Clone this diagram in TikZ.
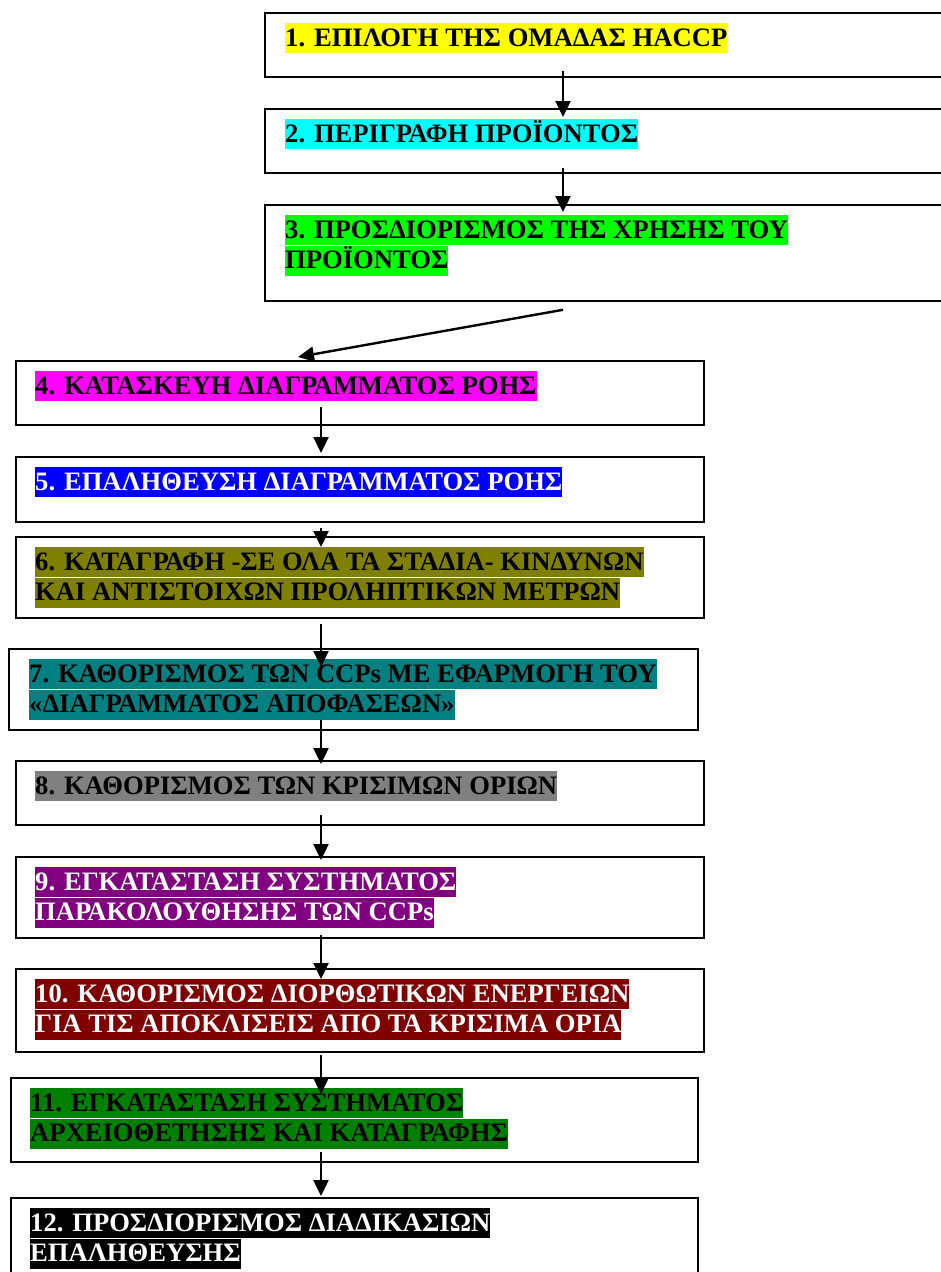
\documentclass[tikz,border=0pt]{standalone}
\usepackage{fontspec}
\setmainfont{Liberation Serif}
\usetikzlibrary{arrows.meta,calc}

\definecolor{hlyellow}{HTML}{FFFF00}
\definecolor{hlcyan}{HTML}{00FFFF}
\definecolor{hllime}{HTML}{00FF00}
\definecolor{hlmagenta}{HTML}{FF00FF}
\definecolor{hlblue}{HTML}{0000FF}
\definecolor{hlolive}{HTML}{808000}
\definecolor{hlteal}{HTML}{008080}
\definecolor{hlgray}{HTML}{808080}
\definecolor{hlpurple}{HTML}{800080}
\definecolor{hlmaroon}{HTML}{800000}
\definecolor{hlgreen}{HTML}{008000}
\definecolor{hlblack}{HTML}{000000}

\begin{document}
\begin{tikzpicture}[x=1pt,y=-1pt,
  stepbox/.style={draw=black, line width=1.8pt, fill=white, inner sep=0pt,
    anchor=north west},
  hl/.style={fill=#1, inner xsep=0pt, inner ysep=0pt, anchor=north west,
    text height=23pt, text depth=7pt,
    font=\fontsize{26.6}{30}\selectfont\bfseries},
  arr/.style={line width=2.4pt, -{Triangle[length=16pt,width=15pt]}},
]
\useasboundingbox (0,0) rectangle (940,1272);
\fill[white] (0,0) rectangle (940,1272);

% step boxes
\node[stepbox, minimum width=700pt, minimum height=64pt] (b1) at (264,12) {};
\node[stepbox, minimum width=700pt, minimum height=64pt] (b2) at (264,108) {};
\node[stepbox, minimum width=700pt, minimum height=96pt] (b3) at (264,204) {};
\node[stepbox, minimum width=688pt, minimum height=64pt] (b4) at (15,360) {};
\node[stepbox, minimum width=688pt, minimum height=65pt] (b5) at (15,456) {};
\node[stepbox, minimum width=688pt, minimum height=81pt] (b6) at (15,536) {};
\node[stepbox, minimum width=689pt, minimum height=81pt] (b7) at (8,648) {};
\node[stepbox, minimum width=688pt, minimum height=64pt] (b8) at (15,760) {};
\node[stepbox, minimum width=688pt, minimum height=81pt] (b9) at (15,856) {};
\node[stepbox, minimum width=688pt, minimum height=83pt] (b10) at (15,968) {};
\node[stepbox, minimum width=687pt, minimum height=84pt] (b11) at (10,1077) {};
\node[stepbox, minimum width=687pt, minimum height=100pt] (b12) at (10,1197) {};

% highlighted step titles
\node[hl=hlyellow] (t1) at (285,23) {1. ΕΠΙΛΟΓΗ ΤΗΣ ΟΜΑΔΑΣ HACCP};
\node[hl=hlcyan] (t2) at (285,119) {2. ΠΕΡΙΓΡΑΦΗ ΠΡΟΪΟΝΤΟΣ};
\node[hl=hllime] (t3a) at (285,215) {3. ΠΡΟΣΔΙΟΡΙΣΜΟΣ ΤΗΣ ΧΡΗΣΗΣ ΤΟΥ};
\node[hl=hllime] (t3b) at (t3a.south west) {ΠΡΟΪΟΝΤΟΣ};
\node[hl=hlmagenta] (t4) at (35,371) {4. ΚΑΤΑΣΚΕΥΗ ΔΙΑΓΡΑΜΜΑΤΟΣ ΡΟΗΣ};
\node[hl=hlblue, text=white] (t5) at (35,467) {5. ΕΠΑΛΗΘΕΥΣΗ ΔΙΑΓΡΑΜΜΑΤΟΣ ΡΟΗΣ};
\node[hl=hlolive] (t6a) at (35,547) {6. ΚΑΤΑΓΡΑΦΗ -ΣΕ ΟΛΑ ΤΑ ΣΤΑΔΙΑ- ΚΙΝΔΥΝΩΝ};
\node[hl=hlolive] (t6b) at (t6a.south west) {ΚΑΙ ΑΝΤΙΣΤΟΙΧΩΝ ΠΡΟΛΗΠΤΙΚΩΝ ΜΕΤΡΩΝ};
\node[hl=hlteal] (t7a) at (29,659) {7. ΚΑΘΟΡΙΣΜΟΣ ΤΩΝ CCPs ΜΕ ΕΦΑΡΜΟΓΗ ΤΟΥ};
\node[hl=hlteal] (t7b) at (t7a.south west) {«ΔΙΑΓΡΑΜΜΑΤΟΣ ΑΠΟΦΑΣΕΩΝ»};
\node[hl=hlgray] (t8) at (35,771) {8. ΚΑΘΟΡΙΣΜΟΣ ΤΩΝ ΚΡΙΣΙΜΩΝ ΟΡΙΩΝ};
\node[hl=hlpurple, text=white] (t9a) at (35,867) {9. ΕΓΚΑΤΑΣΤΑΣΗ ΣΥΣΤΗΜΑΤΟΣ};
\node[hl=hlpurple, text=white] (t9b) at (t9a.south west) {ΠΑΡΑΚΟΛΟΥΘΗΣΗΣ ΤΩΝ CCPs};
\node[hl=hlmaroon, text=white] (t10a) at (35,979) {10. ΚΑΘΟΡΙΣΜΟΣ ΔΙΟΡΘΩΤΙΚΩΝ ΕΝΕΡΓΕΙΩΝ};
\node[hl=hlmaroon, text=white] (t10b) at (t10a.south west) {ΓΙΑ ΤΙΣ ΑΠΟΚΛΙΣΕΙΣ ΑΠΟ ΤΑ ΚΡΙΣΙΜΑ ΟΡΙΑ};
\node[hl=hlgreen] (t11a) at (30,1088) {11. ΕΓΚΑΤΑΣΤΑΣΗ ΣΥΣΤΗΜΑΤΟΣ};
\node[hl=hlgreen] (t11b) at (t11a.south west) {ΑΡΧΕΙΟΘΕΤΗΣΗΣ ΚΑΙ ΚΑΤΑΓΡΑΦΗΣ};
\node[hl=hlblack, text=white] (t12a) at (30,1208) {12. ΠΡΟΣΔΙΟΡΙΣΜΟΣ ΔΙΑΔΙΚΑΣΙΩΝ};
\node[hl=hlblack, text=white] (t12b) at (t12a.south west) {ΕΠΑΛΗΘΕΥΣΗΣ};

% arrow columns
\coordinate (colA) at (563,0);
\coordinate (colB) at (321,0);
\coordinate (colC) at (298,0);

% connectors
\draw[arr] ([yshift=7pt]b1.south -| colA) -- ([yshift=-9pt]b2.north -| colA);
\draw[arr] ([yshift=6pt]b2.south -| colA) -- ([yshift=-8pt]b3.north -| colA);
\draw[arr] ([yshift=-8pt]b3.south -| colA) -- ([yshift=3pt]b4.north -| colC);
\draw[arr] ([yshift=19pt]b4.south -| colB) -- ([yshift=3pt]b5.north -| colB);
\draw[arr] ([yshift=-5pt]b5.south -| colB) -- ([yshift=-11pt]b6.north -| colB);
\draw[arr] ([yshift=-5pt]b6.south -| colB) -- ([yshift=-19pt]b7.north -| colB);
\draw[arr] ([yshift=11pt]b7.south -| colB) -- ([yshift=-4pt]b8.north -| colB);
\draw[arr] ([yshift=11pt]b8.south -| colB) -- ([yshift=-4pt]b9.north -| colB);
\draw[arr] ([yshift=4pt]b9.south -| colB) -- ([yshift=-11pt]b10.north -| colB);
\draw[arr] ([yshift=-2pt]b10.south -| colB) -- ([yshift=-17pt]b11.north -| colB);
\draw[arr] ([yshift=11pt]b11.south -| colB) -- ([yshift=1pt]b12.north -| colB);
\end{tikzpicture}
\end{document}
